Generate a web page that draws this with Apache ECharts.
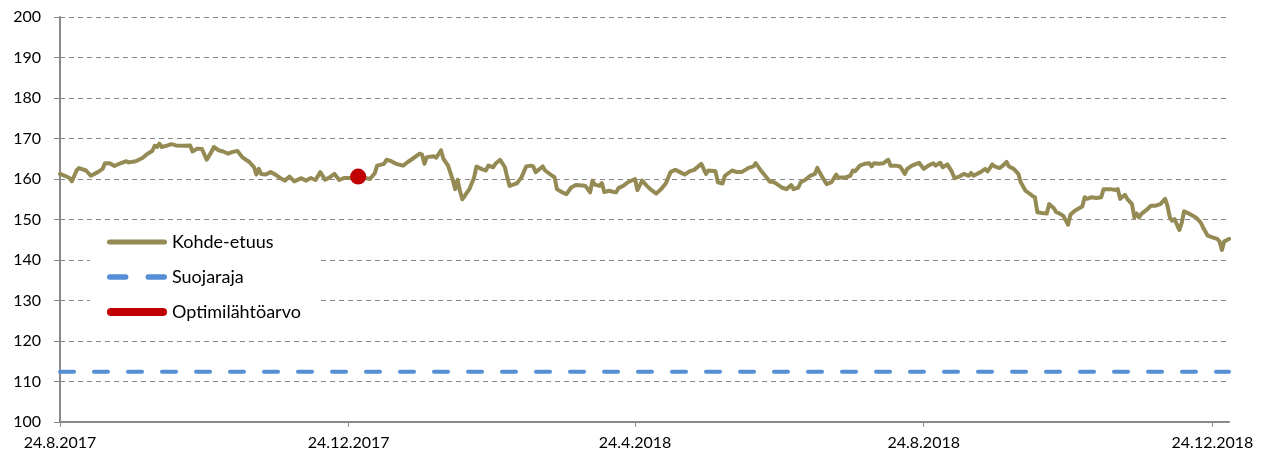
<!DOCTYPE html>
<html><head><meta charset="utf-8">
<script src="https://cdn.jsdelivr.net/npm/echarts@6/dist/echarts.min.js"></script>
<style>html,body{margin:0;padding:0;background:#fff}#c{width:1263px;height:459px}</style>
</head><body><div id="c"></div>
<script>
// x values are days after 24.8.2017
const axisMaxDay = 494;
const tickDays = [0, 122, 243, 365, 487];
const tickLabels = ['24.8.2017', '24.12.2017', '24.4.2018', '24.8.2018', '24.12.2018'];
const yTicks = [100, 110, 120, 130, 140, 150, 160, 170, 180, 190, 200];

const kohdeDays = [0,2,4,5,7,8,11,13,16,18,19,21,23,25,28,29,32,35,37,39,40,41,42,43,45,47,49,52,55,56,58,60,62,64,65,67,69,71,73,75,77,80,82,83,84,85,87,89,91,93,95,97,99,102,104,106,108,110,112,114,116,118,120,123,126,129,131,133,134,137,138,140,142,145,147,149,152,153,154,155,158,159,161,162,164,165,166,167,168,169,170,171,172,173,175,176,178,180,181,183,184,186,188,189,190,193,195,197,199,200,201,204,205,208,209,210,212,214,216,218,221,222,224,225,226,228,229,230,232,234,235,236,238,240,243,244,246,248,250,252,254,256,258,260,262,264,266,268,271,273,274,277,278,280,281,284,286,288,291,293,294,296,298,300,301,303,305,307,309,310,312,313,315,317,319,320,322,324,326,328,329,330,332,334,335,336,338,340,342,343,344,346,348,349,350,351,353,355,357,358,360,363,365,367,369,370,372,373,375,377,378,380,382,384,385,386,389,391,392,394,395,397,398,400,401,403,405,406,408,410,411,412,413,415,417,418,420,421,422,424,426,427,429,432,433,434,436,438,440,441,444,446,447,448,450,451,453,454,455,456,457,459,461,463,465,467,468,469,470,471,473,474,475,477,480,482,483,485,487,489,490,491,492,493,494];
const kohdeValues = [161.25,160.8,160.25,159.4,162.1,162.7,162.1,160.8,161.7,162.5,163.9,163.9,163.2,163.75,164.4,164.1,164.4,165.25,166.25,166.9,168.2,167.9,168.75,167.9,168.2,168.6,168.3,168.2,168.25,166.8,167.5,167.4,164.75,166.7,167.9,167.1,166.8,166.25,166.7,166.9,165.4,164.2,162.9,161.1,162.5,161.25,161.1,161.7,161.1,160.25,159.6,160.6,159.4,160.2,159.6,160.25,159.75,161.7,159.8,160.4,161.25,159.75,160.25,160.25,160.6,160.25,160,161.4,163.3,163.75,164.75,164.4,163.75,163.3,164.2,165,166.25,166,163.75,165.4,165.6,165.25,167.1,165,163.3,161.5,159.75,157.5,159.8,157.1,155,155.8,156.7,157.5,160.4,163.1,162.5,162.1,163.3,162.9,163.75,164.75,162.9,160.4,158.3,158.9,160.4,163.1,163.3,163.1,161.7,163.1,162.1,160.8,160.4,157.5,156.8,156.25,157.9,158.5,158.4,158.3,156.7,159.6,158.6,158.3,159,156.8,157.1,156.8,156.7,157.75,158.3,159.2,160,157.25,159.6,158.3,157.25,156.4,157.5,158.9,161.7,162.3,161.7,161.1,161.9,162.25,163.75,161.25,162.1,161.9,159.2,158.9,160.8,162.1,161.7,161.7,162.75,163.1,163.9,162.25,160.8,159.3,159.4,158.75,157.9,157.5,158.5,157.5,157.9,159.2,159.8,160.8,161.25,162.75,160.6,158.75,159.2,161.1,160.25,160.4,160.4,160.8,162.1,161.9,163.3,163.75,163.9,163.1,163.9,163.75,163.9,164.4,164.75,163.3,163.3,163.1,161.25,162.5,163.3,164,162.5,163.3,163.9,163.3,164,162.9,163.6,161.7,160.2,160.6,161.25,160.8,161.5,160.8,161.7,162.5,161.9,163.6,163.1,162.7,163.1,164.2,163.1,162.5,161.25,159.2,157.1,156.25,155.8,155.5,151.8,151.6,151.5,153.8,152.8,151.8,151.6,150.9,148.7,151.2,152.2,153.2,155.5,155.1,155.5,155.3,155.5,157.5,157.5,157.3,157.5,155.1,156.1,155.1,153.8,150.5,151.5,150.5,151.4,152.3,153.4,153.4,153.8,155.1,153.4,150.5,149.7,150.1,147.4,149.1,152,151.5,150.5,149.3,148.1,146,145.6,145.2,144.6,142.5,144.6,144.9,145.2];
const suojarajaLevel = 112.4;
const optimiDay = 126;
const optimiValue = 160.6;

const colors = { kohde: '#948A54', suoja: '#558ED5', optimi: '#C00000', axis: '#898989' };
const font = 'Lato, "Open Sans", sans-serif';

const chart = echarts.init(document.getElementById('c'));
chart.setOption({
  animation: false,
  backgroundColor: '#fff',
  grid: { left: 60, right: 34, top: 17, bottom: 37 },
  xAxis: {
    type: 'value', min: 0, max: axisMaxDay,
    axisLine: { lineStyle: { color: colors.axis, width: 2 } },
    axisTick: { show: true, length: 5, customValues: tickDays, lineStyle: { color: colors.axis, width: 1 } },
    axisLabel: {
      customValues: tickDays, margin: 13, color: '#000', fontSize: 16, fontFamily: font,
      formatter: v => { const i = tickDays.indexOf(v); return i >= 0 ? tickLabels[i] : ''; }
    },
    splitLine: { show: false }
  },
  yAxis: {
    type: 'value', min: yTicks[0], max: yTicks[yTicks.length - 1], interval: yTicks[1] - yTicks[0],
    axisLine: { show: true, lineStyle: { color: colors.axis, width: 2 } },
    axisTick: { show: true, length: 6, lineStyle: { color: colors.axis, width: 1 } },
    axisLabel: { margin: 19, color: '#000', fontSize: 16, fontFamily: font },
    splitLine: { show: true, lineStyle: { color: colors.axis, width: 1, type: [5, 4] } }
  },
  legend: {
    orient: 'vertical', left: 90, top: 222, padding: [10, 17, 10, 17],
    backgroundColor: '#fff', itemWidth: 60, itemHeight: 8, itemGap: 15,
    textStyle: { fontSize: 18, fontFamily: font, color: '#000', lineHeight: 20 },
    data: [
      { name: 'Kohde-etuus', icon: 'path://M2.5,0h55a2.5,2.5 0 0 1 0,5h-55a2.5,2.5 0 0 1 0,-5z', itemStyle: { color: colors.kohde } },
      { name: 'Suojaraja', icon: 'path://M2.5,0h15a2.5,2.5 0 0 1 0,5h-15a2.5,2.5 0 0 1 0,-5z M38.5,0h15a2.5,2.5 0 0 1 0,5h-15a2.5,2.5 0 0 1 0,-5z', itemStyle: { color: colors.suoja } },
      { name: 'Optimilähtöarvo', icon: 'path://M4,0h52a4,4 0 0 1 0,8h-52a4,4 0 0 1 0,-8z', itemStyle: { color: colors.optimi } }
    ]
  },
  series: [
    {
      name: 'Kohde-etuus', type: 'line', symbol: 'none', z: 3,
      data: kohdeDays.map((d, i) => [d, kohdeValues[i]]),
      itemStyle: { color: colors.kohde },
      lineStyle: { color: colors.kohde, width: 4, cap: 'round', join: 'round' }
    },
    {
      name: 'Suojaraja', type: 'line', symbol: 'none', z: 2,
      data: [[0, suojarajaLevel], [axisMaxDay, suojarajaLevel]],
      itemStyle: { color: colors.suoja },
      lineStyle: { color: colors.suoja, width: 4, type: [14, 20], cap: 'round' }
    },
    {
      name: 'Optimilähtöarvo', type: 'scatter', z: 5,
      data: [[optimiDay, optimiValue]], symbolSize: 16,
      itemStyle: { color: colors.optimi, opacity: 1 }
    }
  ]
});
</script></body></html>
